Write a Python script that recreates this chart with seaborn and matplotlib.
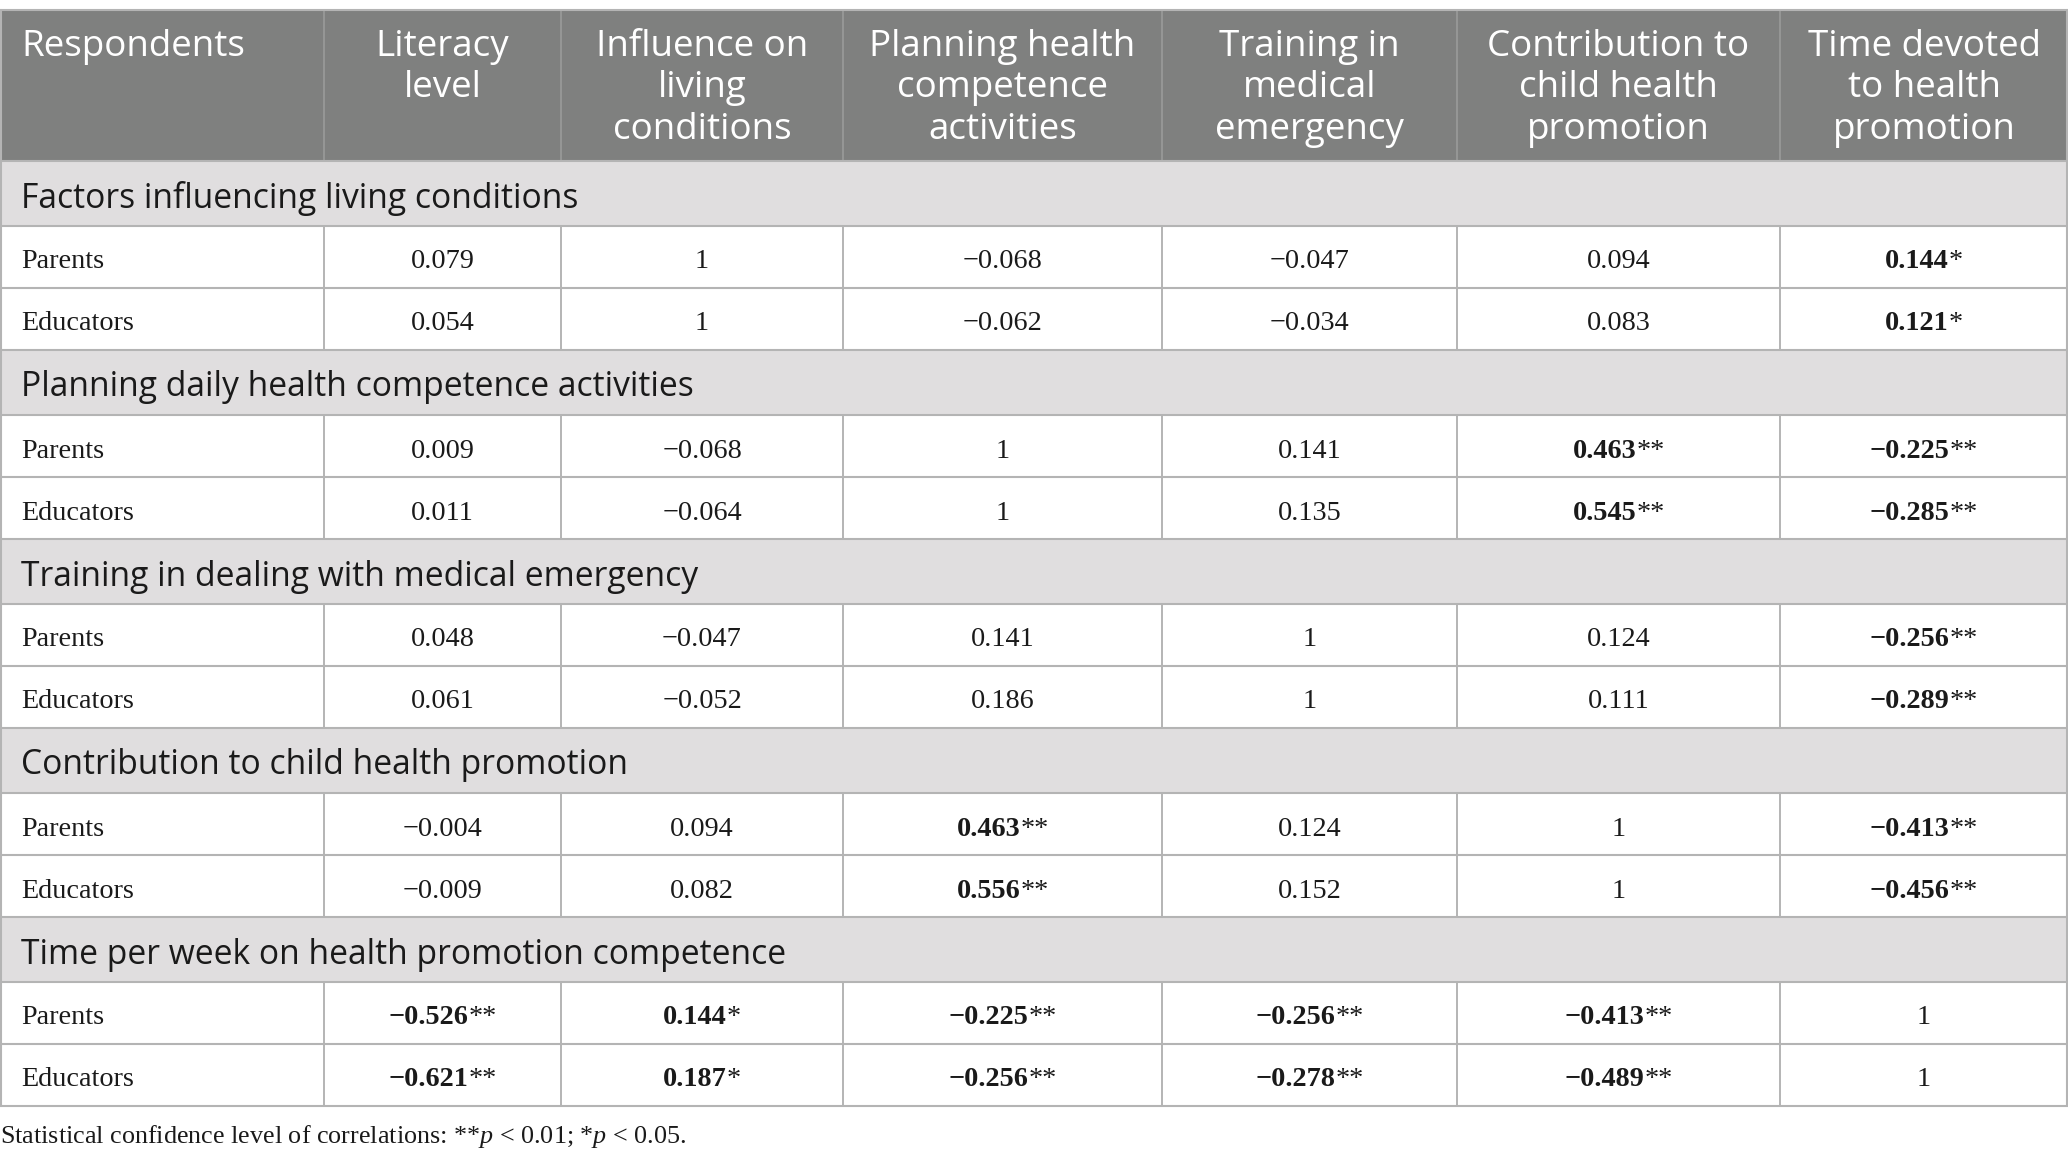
import matplotlib
matplotlib.use("Agg")
import matplotlib.pyplot as plt
import seaborn as sns
from matplotlib.patches import Rectangle

# Cabeceras de columnas
columns = ["Respondents", "Literacy\nlevel", "Influence on\nliving\nconditions",
           "Planning health\ncompetence\nactivities", "Training in\nmedical\nemergency",
           "Contribution to\nchild health\npromotion", "Time devoted\nto health\npromotion"]

sections = ["Factors influencing living conditions",
            "Planning daily health competence activities",
            "Training in dealing with medical emergency",
            "Contribution to child health promotion",
            "Time per week on health promotion competence"]

respondents = ["Parents", "Educators"]

# Coeficientes por bloque: [Parents, Educators]
factors_living = [[0.079, 1, -0.068, -0.047, 0.094, 0.144],
                  [0.054, 1, -0.062, -0.034, 0.083, 0.121]]
planning_daily = [[0.009, -0.068, 1, 0.141, 0.463, -0.225],
                  [0.011, -0.064, 1, 0.135, 0.545, -0.285]]
training_emerg = [[0.048, -0.047, 0.141, 1, 0.124, -0.256],
                  [0.061, -0.052, 0.186, 1, 0.111, -0.289]]
contribution = [[-0.004, 0.094, 0.463, 0.124, 1, -0.413],
                [-0.009, 0.082, 0.556, 0.152, 1, -0.456]]
time_week = [[-0.526, 0.144, -0.225, -0.256, -0.413, 1],
             [-0.621, 0.187, -0.256, -0.278, -0.489, 1]]

# Nivel de significación (número de asteriscos)
sig_living = [[0, 0, 0, 0, 0, 1], [0, 0, 0, 0, 0, 1]]
sig_planning = [[0, 0, 0, 0, 2, 2], [0, 0, 0, 0, 2, 2]]
sig_training = [[0, 0, 0, 0, 0, 2], [0, 0, 0, 0, 0, 2]]
sig_contrib = [[0, 0, 2, 0, 0, 2], [0, 0, 2, 0, 0, 2]]
sig_time = [[2, 1, 2, 2, 2, 0], [2, 1, 2, 2, 2, 0]]

footnote = r"Statistical confidence level of correlations: **$p$ < 0.01; *$p$ < 0.05."

blocks = [factors_living, planning_daily, training_emerg, contribution, time_week]
sig_blocks = [sig_living, sig_planning, sig_training, sig_contrib, sig_time]

sns.set_theme(style="white")
plt.rcParams['mathtext.fontset'] = 'custom'
plt.rcParams['mathtext.rm'] = 'Liberation Serif'
plt.rcParams['mathtext.it'] = 'Liberation Serif:italic'

W, H = 2068, 1165
col_edges = [0, 324, 561, 843, 1162, 1457, 1780, W]
top, header_h, section_h, row_h = 10, 151, 65, 62

header_bg = "#7f807f"
section_bg = "#e0dedf"
line_col = "#b4b4b4"
sans = "Open Sans"
serif = "Liberation Serif"
fs_head, fs_sec, fs_cell = 26.5, 24.2, 20.3


def fmt(v):
    if v == 1:
        return "1"
    s = f"{abs(v):.3f}"
    return ("\u2212" + s) if v < 0 else s


fig = plt.figure(figsize=(W / 100, H / 100), dpi=100)
ax = fig.add_axes([0, 0, 1, 1])
ax.set_xlim(0, W)
ax.set_ylim(H, 0)
ax.axis("off")
renderer = fig.canvas.get_renderer()

# Cabecera
ax.add_patch(Rectangle((0, top), W, header_h, color=header_bg, lw=0))
for i, name in enumerate(columns):
    x0, x1 = col_edges[i], col_edges[i + 1]
    if i == 0:
        ax.text(21, top + 19, name, color="white", fontsize=fs_head, family=sans,
                ha="left", va="top")
    else:
        ax.text((x0 + x1) / 2, top + 19, name, color="white", fontsize=fs_head,
                family=sans, ha="center", va="top", multialignment="center")
        ax.plot([x0, x0], [top, top + header_h], color="#9a9b9a", lw=1.2)

y = top + header_h
hlines = [top, y]
for sec, vals, sigs in zip(sections, blocks, sig_blocks):
    ax.add_patch(Rectangle((0, y), W, section_h, color=section_bg, lw=0))
    ax.text(21, y + section_h / 2 + 5, sec, fontsize=fs_sec, family=sans,
            color="#1a1a1a", ha="left", va="center")
    y += section_h
    hlines.append(y)
    for r, name in enumerate(respondents):
        cy = y + row_h / 2 + 5
        ax.text(21, cy, name, fontsize=fs_cell, family=serif, color="#1a1a1a",
                ha="left", va="center")
        for j, v in enumerate(vals[r]):
            cx = (col_edges[j + 1] + col_edges[j + 2]) / 2
            n = sigs[r][j]
            if n == 0:
                ax.text(cx, cy, fmt(v), fontsize=fs_cell, family=serif,
                        color="#1a1a1a", ha="center", va="center")
            else:
                t1 = ax.text(0, cy, fmt(v), fontsize=fs_cell, family=serif,
                             fontweight="bold", color="#1a1a1a",
                             ha="left", va="center")
                t2 = ax.text(0, cy, "*" * n, fontsize=fs_cell, family=serif,
                             color="#1a1a1a", ha="left", va="center")
                w1 = t1.get_window_extent(renderer).width
                w2 = t2.get_window_extent(renderer).width
                xs = cx - (w1 + w2) / 2
                t1.set_x(xs)
                t2.set_x(xs + w1)
        for e in col_edges[1:-1]:
            ax.plot([e, e], [y, y + row_h], color=line_col, lw=1.4)
        y += row_h
        hlines.append(y)

for hy in hlines:
    ax.plot([0, W], [hy, hy], color=line_col, lw=1.5)
ax.plot([1, 1], [top, y], color=line_col, lw=1.5)
ax.plot([W - 1, W - 1], [top, y], color=line_col, lw=1.5)

ax.text(0, y + 31, footnote, fontsize=18.8, family=serif, color="#1a1a1a",
        ha="left", va="center")

fig.savefig("out.png", dpi=100)
